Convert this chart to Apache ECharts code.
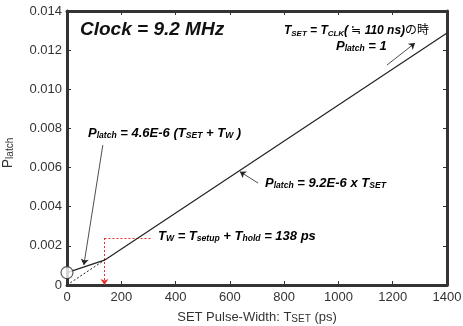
<!DOCTYPE html>
<html>
<head>
<meta charset="utf-8">
<script src="https://cdn.jsdelivr.net/npm/echarts@6/dist/echarts.min.js"></script>
<style>
  html, body { margin: 0; padding: 0; background: #fff; }
  #chart { width: 463px; height: 326px; }
</style>
</head>
<body>
<div id="chart"></div>
<script>
// model line: P = 4.6E-6 (T + Tw) below Tw, P = 9.2E-6 x T above
const tSet = [0, 138, 1400];
const pLatch = [0.000635, 0.00127, 0.01288];
// dashed extrapolation through origin
const tLow = [0, 138];
const pLow = [0, 0.00127];
// Tw marker (red dashed)
const twX = 138;
const twY = 0.0024;
const twEndX = 313;
// arrows [x1, y1, x2, y2]
const arrowFit1 = [132, 0.00715, 62, 0.00102];
const arrowFit2 = [704, 0.00521, 637, 0.00579];
const arrowClk = [1179, 0.01124, 1282, 0.01236];

const xTicks = [0, 1400, 200];
const yTicks = [0, 0.014, 0.002];

const FONT = '"Liberation Sans", Arial, "Noto Sans CJK JP", sans-serif';
const AX = '#333';

const chart = echarts.init(document.getElementById('chart'));

function mkRich(size) {
  return {
    b: { fontSize: size, fontWeight: 'bold', fontStyle: 'italic', color: '#111', fontFamily: FONT },
    s: { fontSize: size * 0.66, fontWeight: 'bold', fontStyle: 'italic', color: '#111', fontFamily: FONT, padding: [5, 0, 0, 0] },
    n: { fontSize: size, color: '#111', fontFamily: FONT }
  };
}
const rich = mkRich(13);

function arrow(a) {
  return { coords: [[a[0], a[1]], [a[2], a[3]]] };
}

const boxAxis = {
  axisLine: { show: true, onZero: false, lineStyle: { color: AX, width: 3 } },
  axisTick: { show: true, inside: true, length: 4, lineStyle: { color: AX, width: 1 } },
  axisLabel: { show: false },
  splitLine: { show: false }
};

chart.setOption({
  animation: false,
  grid: { left: 67, right: 16, top: 11, bottom: 41, containLabel: false, outerBoundsMode: 'none' },
  xAxis: [{
    type: 'value', min: xTicks[0], max: xTicks[1], interval: xTicks[2],
    axisLine: { onZero: false, lineStyle: { color: AX, width: 3 } },
    axisTick: { inside: true, length: 4, lineStyle: { color: AX, width: 1 } },
    axisLabel: { color: '#333', fontSize: 13, fontFamily: FONT, margin: 6, formatter: v => String(v) },
    splitLine: { show: false },
    name: 'SET Pulse-Width: T{s|SET} (ps)',
    nameLocation: 'middle', nameGap: 25,
    nameTextStyle: {
      color: '#333', fontSize: 13, fontFamily: FONT,
      rich: { s: { fontSize: 10, color: '#333', fontFamily: FONT, padding: [4, 0, 0, 0] } }
    }
  }, Object.assign({
    type: 'value', position: 'top', min: xTicks[0], max: xTicks[1], interval: xTicks[2]
  }, boxAxis)],
  yAxis: [{
    type: 'value', min: yTicks[0], max: yTicks[1], interval: yTicks[2],
    axisLine: { show: true, onZero: false, lineStyle: { color: AX, width: 3 } },
    axisTick: { show: true, inside: true, length: 4, lineStyle: { color: AX, width: 1 } },
    axisLabel: {
      color: '#333', fontSize: 13, fontFamily: FONT, margin: 5,
      formatter: v => v === 0 ? '0' : v.toFixed(3)
    },
    splitLine: { show: false },
    name: 'P{s|latch}', nameLocation: 'middle', nameGap: 52, nameRotate: 90,
    nameTextStyle: {
      color: '#333', fontSize: 14, fontFamily: FONT, padding: [0, 10, 0, 0],
      rich: { s: { fontSize: 10, color: '#333', fontFamily: FONT, padding: [4, 0, 0, 0] } }
    }
  }, Object.assign({
    type: 'value', position: 'right', min: yTicks[0], max: yTicks[1], interval: yTicks[2]
  }, boxAxis)],
  series: [
    {
      type: 'line', data: tSet.map((t, i) => [t, pLatch[i]]),
      symbol: 'none', lineStyle: { color: '#222', width: 1.2 }, z: 3
    },
    {
      type: 'line', data: tLow.map((t, i) => [t, pLow[i]]),
      symbol: 'none', lineStyle: { color: '#222', width: 1, type: [2, 2] }, z: 3
    },
    {
      type: 'lines', coordinateSystem: 'cartesian2d', z: 2,
      symbol: ['none', 'none'],
      lineStyle: { color: '#e8302a', width: 1, type: [2, 2], opacity: 1 },
      data: [{ coords: [[twX, twY], [twEndX, twY]] }]
    },
    {
      type: 'lines', coordinateSystem: 'cartesian2d', z: 2,
      symbol: ['none', 'arrow'], symbolSize: 6,
      lineStyle: { color: '#e8302a', width: 1, type: [2, 2], opacity: 1 },
      data: [{ coords: [[twX, twY], [twX, 0]] }]
    },
    {
      type: 'lines', coordinateSystem: 'cartesian2d', z: 4,
      symbol: ['none', 'arrow'], symbolSize: 6,
      lineStyle: { color: '#222', width: 0.8, opacity: 1 },
      data: [arrow(arrowFit1), arrow(arrowFit2), arrow(arrowClk)]
    },
    {
      type: 'scatter', data: [[tSet[0], pLatch[0]]], z: 10,
      symbol: 'circle', symbolSize: 12,
      itemStyle: { color: '#fff', borderColor: '#333', borderWidth: 1.2 },
      clip: false
    }
  ],
  graphic: [
    { type: 'text', left: 80, top: 20, z: 20,
      style: { text: 'Clock = 9.2 MHz', font: 'italic bold 19px ' + FONT, fill: '#111' } },
    { type: 'text', left: 284, top: 25, z: 20,
      style: { text: '{b|T}{s|SET}{b| = T}{s|CLK}{b|( }{n|≒}{b| 110 ns)}{n|の時}', rich: mkRich(12) } },
    { type: 'text', left: 336, top: 40, z: 20,
      style: { text: '{b|P}{s|latch}{b| = 1}', rich: rich } },
    { type: 'text', left: 88, top: 127, z: 20,
      style: { text: '{b|P}{s|latch}{b| = 4.6E-6 (T}{s|SET}{b| + T}{s|W}{b| )}', rich: rich } },
    { type: 'text', left: 265, top: 177, z: 20,
      style: { text: '{b|P}{s|latch}{b| = 9.2E-6 x T}{s|SET}', rich: rich } },
    { type: 'text', left: 158, top: 230, z: 20,
      style: { text: '{b|T}{s|W}{b| = T}{s|setup}{b| + T}{s|hold}{b| = 138 ps}', rich: rich } }
  ]
});
</script>
</body>
</html>
